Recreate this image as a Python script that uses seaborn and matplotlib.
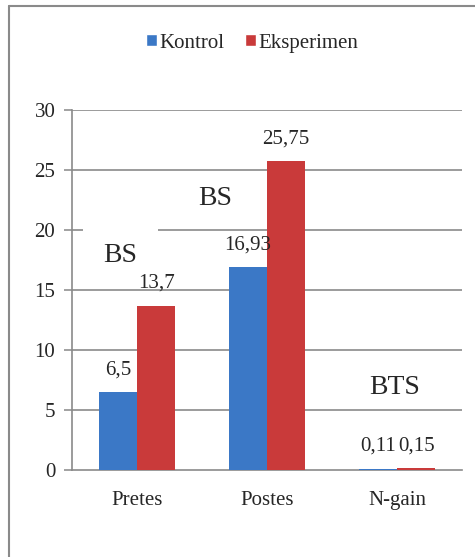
import matplotlib
matplotlib.use("Agg")
import matplotlib.pyplot as plt
from matplotlib.patches import Rectangle
from matplotlib.lines import Line2D
import seaborn as sns
import pandas as pd

categories = ["Pretes", "Postes", "N-gain"]
groups = ["Kontrol", "Eksperimen"]
kontrol = [6.5, 16.93, 0.11]
eksperimen = [13.7, 25.75, 0.15]
y_ticks = [0, 5, 10, 15, 20, 25, 30]
notes = ["BS", "BS", "BTS"]

rows = []
for c, k, e in zip(categories, kontrol, eksperimen):
    rows.append({"Kategori": c, "Kelompok": "Kontrol", "Nilai": k})
    rows.append({"Kategori": c, "Kelompok": "Eksperimen", "Nilai": e})
df = pd.DataFrame(rows)

sns.set_style("white")
plt.rcParams["font.family"] = ["Liberation Serif", "DejaVu Serif"]

W, H = 475, 557
fig = plt.figure(figsize=(W / 100, H / 100), dpi=100)
ax = fig.add_axes([72 / W, 1 - 470 / H, 390 / W, 360 / H])

blue = "#3b78c6"
red = "#c93a3a"
sns.barplot(data=df, x="Kategori", y="Nilai", hue="Kelompok", order=categories,
            hue_order=groups, palette=[blue, red], width=0.59, saturation=1,
            ax=ax, zorder=3)
for cont in ax.containers:
    for p in cont.patches:
        p.set_edgecolor("none")

ax.set_ylim(0, 30)
ax.set_xlim(-0.5, 2.5)
ax.set_yticks(y_ticks)
ax.set_yticklabels([str(t) for t in y_ticks], fontsize=15)
ax.set_xticks(range(len(categories)))
ax.set_xticklabels(categories, fontsize=15)
ax.set_xticks([-0.5, 0.5, 1.5, 2.5], minor=True)
ax.tick_params(axis="x", which="major", length=0, pad=15)
ax.tick_params(axis="x", which="minor", length=5, width=1.1, color="#888888", direction="out")
ax.tick_params(axis="y", length=6, width=1.1, color="#888888", direction="out", pad=6, left=True)
ax.set_xlabel("")
ax.set_ylabel("")

for t in y_ticks[1:]:
    ax.axhline(t, color="#8a8a8a", lw=1.2, zorder=1)
for s in ["top", "right"]:
    ax.spines[s].set_visible(False)
for s in ["left", "bottom"]:
    ax.spines[s].set_color("#8a8a8a")
    ax.spines[s].set_linewidth(1.2)

# value labels
for cont, vals in zip(ax.containers, [kontrol, eksperimen]):
    for p, v in zip(cont.patches, vals):
        lbl = ("%g" % v).replace(".", ",")
        ax.annotate(lbl, (p.get_x() + p.get_width() / 2, p.get_height()),
                    xytext=(0, 16), textcoords="offset points",
                    ha="center", va="center", fontsize=15, zorder=5)

# significance notes
ax.add_patch(Rectangle((-0.415, 16.2), 0.575, 4.3, facecolor="white",
                       edgecolor="none", zorder=2))
ax.text(-0.13, 17.9, notes[0], fontsize=20, ha="center", va="center", zorder=4)
ax.text(0.6, 22.6, notes[1], fontsize=20, ha="center", va="center", zorder=4)
ax.text(1.985, 6.9, notes[2], fontsize=20, ha="center", va="center", zorder=4)

ax.get_legend().remove()
from matplotlib.patches import Patch
handles = [Patch(facecolor=blue), Patch(facecolor=red)]
fig.legend(handles, groups, loc="center", bbox_to_anchor=(252 / W, 1 - 43 / H),
           ncol=2, frameon=False, fontsize=15, handlelength=0.55, handleheight=0.55,
           handletextpad=0.1, columnspacing=1.0)

# outer border
fig.add_artist(Line2D([8.5 / W, 8.5 / W], [0, 1 - 5.5 / H], color="#8a8a8a", lw=1.5,
                      transform=fig.transFigure))
fig.add_artist(Line2D([8.5 / W, 1], [1 - 5.5 / H, 1 - 5.5 / H], color="#8a8a8a", lw=1.5,
                      transform=fig.transFigure))

fig.savefig("out.png", dpi=100)
